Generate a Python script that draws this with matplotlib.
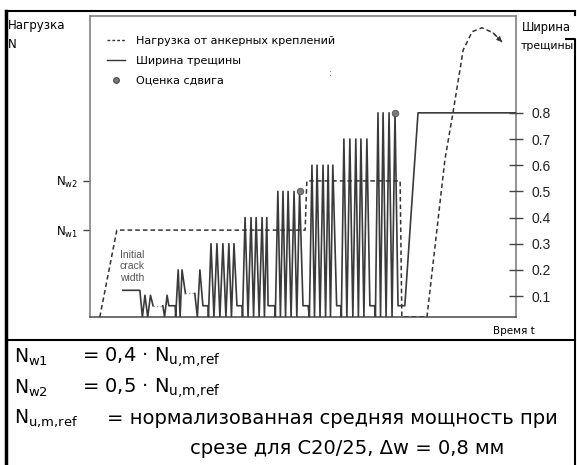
"""Schematic: anchor load and crack width versus time (cyclic crack test)."""

import numpy as np
import matplotlib.pyplot as plt
from matplotlib.lines import Line2D

plt.rcParams["font.family"] = ["DejaVu Sans"]
plt.rcParams["mathtext.fontset"] = "dejavusans"

# --- data (time in arbitrary units 0..100, crack width in mm) ---
init_t = [7.7, 11.7]          # initial crack width plateau
init_w = 0.122
valley_w = 0.02               # crack closed

block_level = [0.103, 0.103, 0.2, 0.2, 0.3, 0.4, 0.5, 0.6, 0.7, 0.8]
block_peaks = [
    [12.9, 14.2],
    [18.1],
    [20.7, 21.6],
    [25.8],
    [28.4, 29.8, 31.2, 32.6, 33.8],
    [36.4, 37.8, 39.0, 40.4, 41.5],
    [44.1, 45.3, 46.5, 47.9, 49.2],
    [52.1, 53.3, 54.7, 55.9, 57.0],
    [59.6, 61.0, 62.4, 63.6, 65.0],
    [67.6, 68.8, 70.2, 71.6],
]
rest_start = [14.8, 18.5, 22.4, 26.5, 34.5, 41.8, 50.0, 57.9, 65.7, 72.3]
rest_end = [17.1, 20.0, 24.6, 27.7, 35.7, 43.4, 51.2, 58.9, 66.8, 73.9]
rest_level = [0.063, 0.063, 0.11, 0.063, 0.063, 0.063, 0.063, 0.063, 0.063, 0.063]
rest_skipped = [True, False, True, False, False, False, False, False, False, False]
final_t = [77.0, 100.0]
final_w = 0.8

# anchor load (drawn on the same schematic scale)
NW1 = 0.352
NW2 = 0.54
load_t = [2.3, 6.3, 50.5, 50.9, 72.8, 73.2, 79.1, 83.3, 85.2, 87.6, 89.7, 92.0, 94.6, 96.7]
load_v = [0.02, NW1, NW1, NW2, NW2, 0.02, 0.02, 0.62, 0.80, 1.04, 1.11, 1.125, 1.106, 1.071]

shear_t = [49.2, 71.6]
shear_w = [0.50, 0.80]

right_ticks = [0.1, 0.2, 0.3, 0.4, 0.5, 0.6, 0.7, 0.8]

# --- build crack width polyline ---
tw, ww = list(init_t), [init_w, init_w]
dotted = []
for i, peaks in enumerate(block_peaks):
    tw.append(peaks[0] - 0.6)
    ww.append(valley_w)
    for j, p in enumerate(peaks):
        if j:
            tw.append((peaks[j - 1] + p) / 2)
            ww.append(valley_w)
        tw.append(p)
        ww.append(block_level[i])
    tw.append(rest_start[i])
    ww.append(rest_level[i])
    if rest_skipped[i]:
        dotted.append(([rest_start[i], rest_end[i]], [rest_level[i]] * 2))
        tw.append(np.nan)
        ww.append(np.nan)
    tw.append(rest_end[i])
    ww.append(rest_level[i])
tw += final_t
ww += [final_w, final_w]

W, H = 577, 465
fig = plt.figure(figsize=(W / 100, H / 100), dpi=100)
ax = fig.add_axes([90 / W, 1 - 317 / H, 426 / W, 301 / H])

gray = "#808080"
ax.plot(tw, ww, color="#3a3a3a", lw=1.2, zorder=3)
for xs, ys in dotted:
    ax.plot(xs, ys, color="#999999", lw=1.0, ls=(0, (1, 1.5)), zorder=3)
ax.plot(load_t, load_v, color="#333333", lw=1.1, ls=(0, (3, 2)), zorder=4)
ax.annotate("", xy=(load_t[-1], load_v[-1]), xytext=(load_t[-2], load_v[-2]),
            arrowprops=dict(arrowstyle="-|>", color="#333333", lw=0.6,
                            mutation_scale=8, shrinkA=0, shrinkB=0))
ax.scatter(shear_t, shear_w, s=22, color="#7a7a7a", edgecolor="#555555",
           linewidth=0.6, zorder=5)

ax.set_xlim(0, 100)
ax.set_ylim(0.02, 1.17)
ax.set_xticks([])

for s in ax.spines.values():
    s.set_color(gray)
    s.set_linewidth(1.2)
ax.spines["bottom"].set_color("#555555")

ax.set_yticks([NW1, NW2])
ax.set_yticklabels([r"N$_{\mathrm{w1}}$", r"N$_{\mathrm{w2}}$"], fontsize=8.5)
ax.tick_params(axis="y", direction="out", length=5, color="#444444", width=1)

ax2 = ax.twinx()
ax2.set_ylim(ax.get_ylim())
ax2.set_yticks(right_ticks)
ax2.set_yticklabels([f"{v:.1f}" for v in right_ticks], fontsize=10,
                    family="Liberation Sans", color="#222222")
ax2.tick_params(axis="y", direction="inout", length=10, color="#444444",
                width=1, pad=6)
for s in ax2.spines.values():
    s.set_visible(False)

ax.text(7.0, 0.275, "Initial\ncrack\nwidth", fontsize=7.5, family="Liberation Sans",
        color="#555555", va="top", ha="left", linespacing=1.15)
ax.text(56.5, 0.94, ":", fontsize=6, color="#555555", ha="center")

handles = [
    Line2D([], [], color="#333333", lw=1.0, ls=(0, (2, 1.5))),
    Line2D([], [], color="#333333", lw=1.0),
    Line2D([], [], ls="none", marker="o", ms=4, color="#7a7a7a",
           markeredgecolor="#555555"),
]
labels = ["Нагрузка от анкерных креплений", "Ширина трещины", "Оценка сдвига"]
ax.legend(handles, labels, loc="upper left", bbox_to_anchor=(0.04, 0.935),
          frameon=False, fontsize=8, handlelength=1.6, handletextpad=1.0,
          labelspacing=0.9, borderaxespad=0, borderpad=0)

# outside labels
fig.text(8 / W, 1 - 26 / H, "Нагрузка", fontsize=8.5, va="center", ha="left")
fig.text(8 / W, 1 - 45 / H, "N", fontsize=8.5, va="center", ha="left")
fig.text(522 / W, 1 - 27 / H, "Ширина", fontsize=8.3, va="center", ha="left")
fig.text(521 / W, 1 - 46 / H, "трещины", fontsize=7.8, va="center", ha="left")
fig.text(535 / W, 1 - 331 / H, "Время t", fontsize=7.5, va="center", ha="right")

# frame lines
def fline(x, y, lw=1.5):
    fig.add_artist(Line2D([v / W for v in x], [1 - v / H for v in y],
                          color="black", lw=lw, transform=fig.transFigure))

fline([6, 575], [11, 11])
fline([575, 575], [11, 15])
fline([6, 6], [11, 465], lw=2.5)
fline([566, 574.5, 574.5], [39, 39, 465])
fline([6, 575], [340, 340])

# definitions below the chart
fs = 14
rows = [
    (r"N$_{\mathrm{w1}}$", r"= 0,4 · N$_{\mathrm{u{,}m{,}ref}}$", 82, 357),
    (r"N$_{\mathrm{w2}}$", r"= 0,5 · N$_{\mathrm{u{,}m{,}ref}}$", 82, 388),
    (r"N$_{\mathrm{u{,}m{,}ref}}$", "= нормализованная средняя мощность при", 107, 418),
]
for left, right, xr, y in rows:
    fig.text(14 / W, 1 - y / H, left, fontsize=fs - 0.5, va="center", ha="left")
    fig.text(xr / W, 1 - y / H, right, fontsize=fs, va="center", ha="left")
fig.text(347 / W, 1 - 448 / H, "срезе для C20/25, Δw = 0,8 мм", fontsize=fs,
         va="center", ha="center")

fig.savefig("out.png", dpi=100)
